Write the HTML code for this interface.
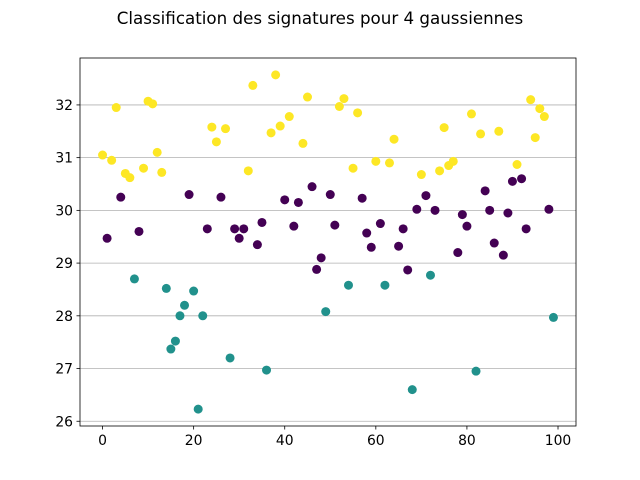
<!DOCTYPE html>
<html><head><meta charset="utf-8"><style>body{margin:0;background:#fff}svg{display:block;font-family:"DejaVu Sans","Liberation Sans",sans-serif}</style></head>
<body>
<svg id="chart" width="640" height="480">
<text x="320" y="24" text-anchor="middle" font-size="16.7" fill="#000">Classification des signatures pour 4 gaussiennes</text>
<g id="grid"></g><g id="pts"></g><g id="axes"></g>
</svg>
<script>
const yValues=[31.05,29.47,30.95,31.95,30.25,30.7,30.62,28.7,29.6,30.8,32.07,32.02,31.1,30.72,28.52,27.37,27.52,28.0,28.2,30.3,28.47,26.23,28.0,29.65,31.58,31.3,30.25,31.55,27.2,29.65,29.47,29.65,30.75,32.37,29.35,29.77,26.97,31.47,32.57,31.6,30.2,31.78,29.7,30.15,31.27,32.15,30.45,28.88,29.1,28.08,30.3,29.72,31.97,32.12,28.58,30.8,31.85,30.23,29.57,29.3,30.93,29.75,28.58,30.9,31.35,29.32,29.65,28.87,26.6,30.02,30.68,30.28,28.77,30.0,30.75,31.57,30.85,30.93,29.2,29.92,29.7,31.83,26.95,31.45,30.37,30.0,29.38,31.5,29.15,29.95,30.55,30.87,30.6,29.65,32.1,31.38,31.93,31.78,30.02,27.97];
const clusters="YPYYPYYTPYYYYYTTTTTPTTTPYYPYTPPPYYPPTYYYPYPPYYPPPTPPYYTYYPPPYPTYYPPPTPYPTPYYYYPPPYTYPPPYPPPYPPYYYYPT";
const xTicks=[0,20,40,60,80,100];
const yTicks=[26,27,28,29,30,31,32];
const L=80,R=576,T=58,B=426,x0=-4.95,x1=103.95,y0=25.91,y1=32.89;
const sx=v=>L+(v-x0)/(x1-x0)*(R-L), sy=v=>B-(v-y0)/(y1-y0)*(B-T);
const col={P:"#440154",T:"#21918c",Y:"#fde725"};
const NS="http://www.w3.org/2000/svg";
function mk(tag,attrs,parent){const e=document.createElementNS(NS,tag);for(const k in attrs)e.setAttribute(k,attrs[k]);parent.appendChild(e);return e;}
const grid=document.getElementById('grid'),pts=document.getElementById('pts'),axes=document.getElementById('axes');
yTicks.forEach(t=>{
 const g=mk('line',{x1:L,x2:R,y1:sy(t),y2:sy(t),stroke:'#b0b0b0','stroke-width':0.8},grid);
 
 
 const tk=mk('line',{x1:L-3.5,x2:L,y1:sy(t),y2:sy(t),stroke:'#000','stroke-width':0.8},axes);
 
 
 const lb=mk('text',{x:L-7,y:sy(t)+5,'text-anchor':'end','font-size':13.9},axes);lb.textContent=t;
 
 
});
xTicks.forEach(t=>{
 const tk=mk('line',{x1:sx(t),x2:sx(t),y1:B,y2:B+3.5,stroke:'#000','stroke-width':0.8},axes);
 
 
 const lb=mk('text',{x:sx(t),y:B+19,'text-anchor':'middle','font-size':13.9},axes);lb.textContent=t;
 
 
});
yValues.forEach((v,i)=>{
 const c=mk('circle',{cx:sx(i),cy:sy(v),r:4.5,fill:col[clusters[i]]},pts);
 
 
});
const fr=mk('rect',{x:L,y:T,width:R-L,height:B-T,fill:'none',stroke:'#000','stroke-width':0.8},axes);


</script>
</body></html>
